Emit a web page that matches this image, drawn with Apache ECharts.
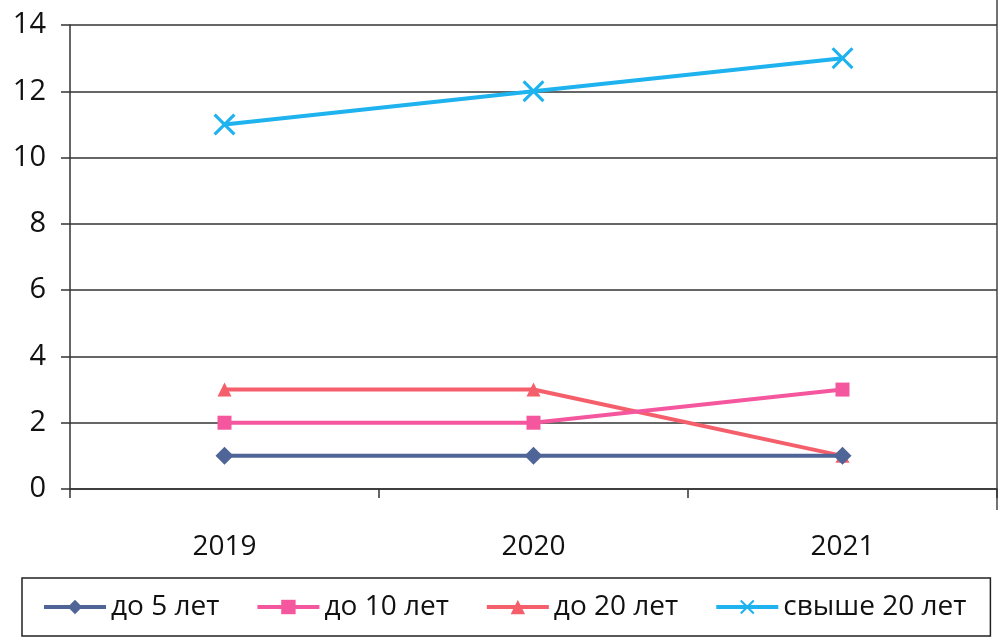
<!DOCTYPE html>
<html><head><meta charset="utf-8">
<script src="https://cdn.jsdelivr.net/npm/echarts@6/dist/echarts.min.js"></script>
<style>html,body{margin:0;padding:0;background:#fff}#c{width:1000px;height:642px}</style>
</head><body><div id="c"></div>
<script>
const categories = ['2019', '2020', '2021'];
const seriesNames = ['до 5 лет', 'до 10 лет', 'до 20 лет', 'свыше 20 лет'];
const upTo5 = [1, 1, 1];
const upTo10 = [2, 2, 3];
const upTo20 = [3, 3, 1];
const over20 = [11, 12, 13];
const yTicks = [0, 2, 4, 6, 8, 10, 12, 14];

const font = '"Open Sans", "DejaVu Sans", sans-serif';
const xPath = 'path://M0,1L1,0L5,4L9,0L10,1L6,5L10,9L9,10L5,6L1,10L0,9L4,5Z';
const colors = ['#4f6598', '#f5579e', '#f55f6b', '#1eb2ee'];
const symbols = ['diamond', 'rect', 'triangle', xPath];
const sizes = [18, 14, 14, 22];
const datasets = [upTo5, upTo10, upTo20, over20];

const chart = echarts.init(document.getElementById('c'));
chart.setOption({
  animation: false,
  backgroundColor: '#fff',
  grid: { left: 70, right: 3, top: 25, bottom: 153 },
  xAxis: {
    type: 'category', data: categories, boundaryGap: true,
    axisLine: { lineStyle: { color: '#333', width: 1.5 } },
    axisTick: { show: true, length: 9, lineStyle: { color: '#333', width: 1.5 } },
    axisLabel: { color: '#111', fontSize: 28, fontFamily: font, margin: 44 }
  },
  yAxis: {
    type: 'value', min: yTicks[0], max: yTicks[yTicks.length - 1], interval: 2,
    axisLine: { show: true, lineStyle: { color: '#333', width: 1.5 } },
    axisTick: { show: true, length: 9, lineStyle: { color: '#333', width: 1.5 } },
    splitLine: { lineStyle: { color: '#333', width: 1.5 } },
    axisLabel: { color: '#111', fontSize: 29, fontFamily: font, margin: 24 }
  },
  legend: {
    left: 22, top: 578, width: 960,
    padding: [15, 24, 15, 20],
    borderColor: '#222', borderWidth: 1.5,
    itemWidth: 62, itemHeight: 18, itemGap: 36,
    lineStyle: { width: 4 },
    textStyle: { color: '#111', fontSize: 28, fontFamily: font },
    data: seriesNames
  },
  graphic: [{ type: 'line', shape: { x1: 997, y1: 0, x2: 997, y2: 510 }, style: { stroke: '#444', lineWidth: 1.5 } }],
  series: seriesNames.map((n, i) => ({
    name: n, type: 'line', data: datasets[i],
    symbol: symbols[i], symbolSize: sizes[i],
    lineStyle: { color: colors[i], width: 4 },
    itemStyle: { color: colors[i] },
    z: 10 - i
  }))
});
</script></body></html>
